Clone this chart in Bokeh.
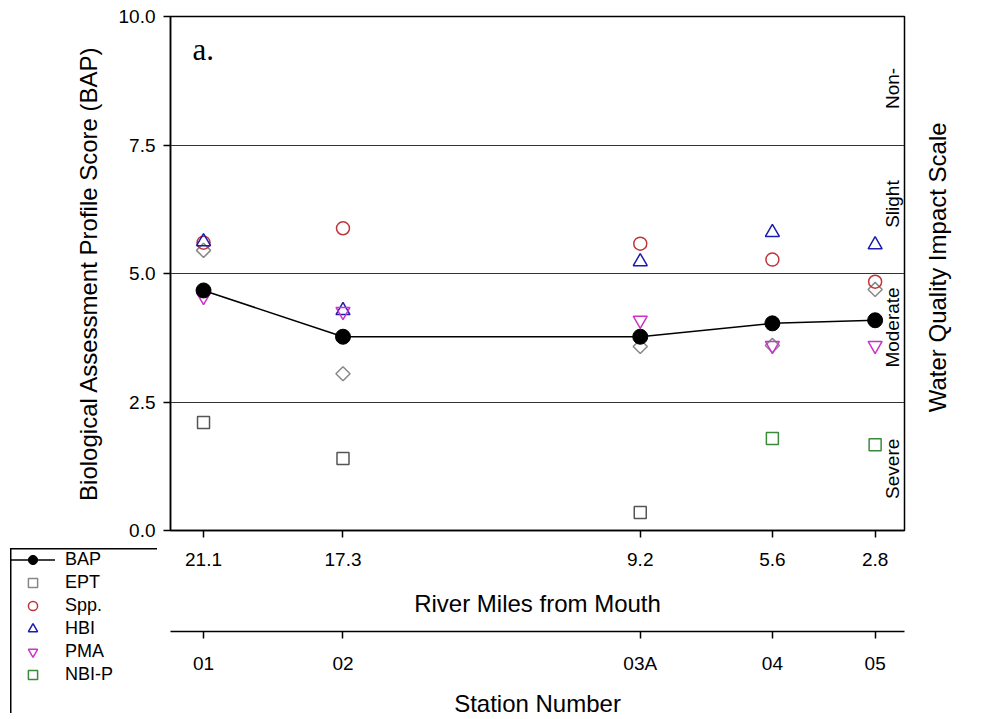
import math
from bokeh.plotting import figure
from bokeh.models import (Range1d, LinearAxis, FixedTicker, Legend, LegendItem,
                          ColumnDataSource, Grid, GridBox)
from bokeh.core.properties import value
from bokeh.embed import file_html
from bokeh.resources import INLINE

# ---- data ----
river_miles = [21.1, 17.3, 9.2, 5.6, 2.8]
river_labels = ["21.1", "17.3", "9.2", "5.6", "2.8"]
stations = ["01", "02", "03A", "04", "05"]
bap = [4.67, 3.77, 3.77, 4.03, 4.09]
ept = [5.45, 3.05, 3.58, 3.60, 4.69]
spp = [5.60, 5.88, 5.58, 5.27, 4.84]
hbi = [5.62, 4.28, 5.23, 5.80, 5.56]
pma = [4.55, 4.26, 4.09, 3.60, 3.60]
nbi = [2.10, 1.40, 0.35, 1.79, 1.67]
y_ticks = [0.0, 2.5, 5.0, 7.5, 10.0]
y_tick_labels = ["0.0", "2.5", "5.0", "7.5", "10.0"]
impact_bounds = [2.5, 5.0, 7.5]
impact_names = ["Severe", "Moderate", "Slight", "Non-"]
impact_label_y = [1.2, 3.95, 6.35, 8.6]
series_names = ["BAP", "EPT", "Spp.", "HBI", "PMA", "NBI-P"]

# styles
nbi_colors = ["#555555", "#555555", "#555555", "#3a8a3a", "#3a8a3a"]
C_EPT, C_SPP, C_HBI, C_PMA, C_NBI = "#888888", "#c0343c", "#1c1cb0", "#cc33cc", "#3a8a3a"
FONT = "Liberation Sans"

W, H = 984, 719
FL, FT, FR, FB = 170, 16, 904, 530

p = figure(width=W, height=H, output_backend="svg", toolbar_location=None,
           x_range=Range1d(22, 2), y_range=Range1d(0, 10),
           x_axis_type=None, y_axis_type=None)
p.min_border_left = FL
p.min_border_right = W - FR
p.min_border_top = FT
p.min_border_bottom = H - FB
p.outline_line_color = "black"
p.outline_line_width = 1.5
p.background_fill_color = "white"
p.border_fill_color = "white"

# left axis
yax = LinearAxis(ticker=FixedTicker(ticks=y_ticks),
                 major_label_overrides={t: l for t, l in zip(y_ticks, y_tick_labels)},
                 axis_label="Biological Assessment Profile Score (BAP)")
p.add_layout(yax, "left")

# right axis carrying only the scale title
title_pos = 2.30
rax = LinearAxis(ticker=FixedTicker(ticks=[title_pos]),
                 major_label_overrides={title_pos: "Water Quality Impact Scale"},
                 major_label_orientation=math.pi / 2)
rax.axis_line_color = None
rax.major_tick_line_color = None
rax.major_tick_out = 0
rax.major_tick_in = 0
rax.minor_tick_line_color = None
rax.major_label_standoff = 33
rax.major_label_text_font = FONT
rax.major_label_text_font_size = "24px"
rax.major_label_text_color = "black"
p.add_layout(rax, "right")

# bottom axes
xax1 = LinearAxis(ticker=FixedTicker(ticks=river_miles),
                  major_label_overrides={t: l for t, l in zip(river_miles, river_labels)},
                  axis_label="River Miles from Mouth")
p.add_layout(xax1, "below")
gap = LinearAxis(ticker=FixedTicker(ticks=[12.0]),
                 major_label_overrides={12.0: " "})
gap.axis_line_alpha = 0
gap.major_tick_line_alpha = 0
gap.minor_tick_line_alpha = 0
gap.major_tick_out = 12
gap.major_tick_in = 0
gap.minor_tick_out = 0
gap.major_label_standoff = 0
gap.major_label_text_font_size = "1px"
gap.major_label_text_alpha = 0
p.add_layout(gap, "below")
xax2 = LinearAxis(ticker=FixedTicker(ticks=river_miles),
                  major_label_overrides={t: l for t, l in zip(river_miles, stations)},
                  axis_label="Station Number")
p.add_layout(xax2, "below")

for ax in (yax, xax1, xax2):
    ax.axis_line_color = "black"
    ax.axis_line_width = 1.5
    ax.major_tick_line_color = "black"
    ax.major_tick_line_width = 1.5
    ax.major_tick_out = 7
    ax.major_tick_in = 0
    ax.minor_tick_line_color = None
    ax.major_label_text_font = FONT
    ax.major_label_text_font_size = "19px"
    ax.major_label_text_color = "black"
    ax.axis_label_text_font = FONT
    ax.axis_label_text_font_size = "24px"
    ax.axis_label_text_font_style = "normal"
    ax.axis_label_text_color = "black"
yax.major_label_standoff = 8
yax.axis_label_standoff = 14
xax1.major_label_standoff = 15
xax1.axis_label_standoff = 21
xax2.major_label_standoff = 14
xax2.axis_label_standoff = 13

# horizontal impact lines
p.ygrid.visible = False
p.xgrid.visible = False
p.add_layout(Grid(dimension=1, ticker=FixedTicker(ticks=impact_bounds),
                  grid_line_color="#333333", grid_line_width=1))

# data glyphs
src = ColumnDataSource(dict(x=river_miles, bap=bap, ept=ept, spp=spp, hbi=hbi,
                            pma=pma, nbi=nbi, nbic=nbi_colors))
p.scatter("x", "ept", source=src, marker="square", angle=math.pi / 4,
          size=10, fill_color=None, line_color=C_EPT, line_width=1.5)
p.scatter("x", "spp", source=src, marker="circle", size=13,
          fill_color=None, line_color=C_SPP, line_width=1.5)
p.scatter("x", "hbi", source=src, marker="triangle", size=14,
          fill_color=None, line_color=C_HBI, line_width=1.5)
p.scatter("x", "pma", source=src, marker="inverted_triangle", size=14,
          fill_color=None, line_color=C_PMA, line_width=1.5)
p.scatter("x", "nbi", source=src, marker="square", size=12,
          fill_color=None, line_color="nbic", line_width=1.5)
p.line("x", "bap", source=src, line_color="black", line_width=1.5)
p.scatter("x", "bap", source=src, marker="circle", size=15,
          fill_color="black", line_color="black")

# impact scale labels (inside right edge)
p.text(x=[2.03] * len(impact_names), y=impact_label_y, text=impact_names,
       angle=math.pi / 2, text_align="center", text_baseline="bottom",
       text_font=value(FONT), text_font_size="19px", text_color="black")

p.text(x=[21.4], y=[9.35], text=["a."], text_align="left", text_baseline="middle",
       text_font=value("Liberation Serif"), text_font_size="31px", text_color="black")

# ---- legend panel (small figure laid over the lower-left corner) ----
LW, LH = 147, 165
lg = figure(frame_width=LW, frame_height=LH, output_backend="svg", toolbar_location=None,
            x_axis_type=None, y_axis_type=None, x_range=Range1d(0, 1),
            y_range=Range1d(0, 1), sizing_mode="fixed")
lg.min_border_left = 0
lg.min_border_right = 0
lg.min_border_top = 0
lg.min_border_bottom = 0
lg.outline_line_color = "black"
lg.outline_line_width = 2
lg.background_fill_alpha = 0
lg.border_fill_alpha = 0
dummy = ColumnDataSource(dict(x=[-5, -6], y=[-5, -6]))
l_line = lg.line("x", "y", source=dummy, line_color="black", line_width=1.5)
l_bap = lg.scatter("x", "y", source=dummy, marker="circle", size=15,
                   fill_color="black", line_color="black")
l_ept = lg.scatter("x", "y", source=dummy, marker="square", angle=math.pi / 4, size=10,
                   fill_color=None, line_color=C_EPT, line_width=1.5)
l_spp = lg.scatter("x", "y", source=dummy, marker="circle", size=13,
                   fill_color=None, line_color=C_SPP, line_width=1.5)
l_hbi = lg.scatter("x", "y", source=dummy, marker="triangle", size=14,
                   fill_color=None, line_color=C_HBI, line_width=1.5)
l_pma = lg.scatter("x", "y", source=dummy, marker="inverted_triangle", size=14,
                   fill_color=None, line_color=C_PMA, line_width=1.5)
l_nbi = lg.scatter("x", "y", source=dummy, marker="square", size=12,
                   fill_color=None, line_color=C_NBI, line_width=1.5)
rends = [[l_line, l_bap], [l_ept], [l_spp], [l_hbi], [l_pma], [l_nbi]]
legend = Legend(items=[LegendItem(label=n, renderers=r) for n, r in zip(series_names, rends)],
                location="top_left")
legend.label_text_font = FONT
legend.label_text_font_size = "18px"
legend.label_text_color = "black"
legend.label_height = 23
legend.glyph_height = 23
legend.glyph_width = 45
legend.label_standoff = 10
legend.spacing = 0
legend.padding = 13
legend.margin = 0
legend.border_line_color = None
legend.background_fill_alpha = 0
lg.add_layout(legend)

layout = GridBox(children=[(p, 0, 0, 3, 3), (lg, 1, 1)],
                 rows=["548px", f"{LH}px", f"{H - 548 - LH}px"],
                 cols=["10px", f"{LW}px", f"{W - 10 - LW}px"])
open("out.html", "w").write(file_html(layout, INLINE))
